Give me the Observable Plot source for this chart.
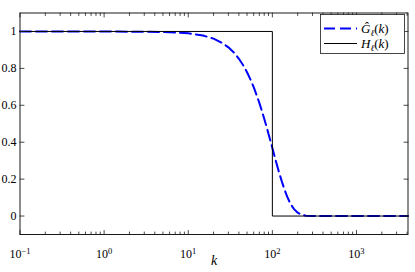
<!DOCTYPE html>
<html>
<head>
<meta charset="utf-8">
<script src="https://cdn.jsdelivr.net/npm/d3@7"></script>
<script src="https://cdn.jsdelivr.net/npm/@observablehq/plot@0.6"></script>
<style>
  html, body { margin: 0; padding: 0; background: white; }
  #wrap { position: relative; width: 415px; height: 272px; }
  #legend { position: absolute; left: 0; top: 0; pointer-events: none; }
  #wrap svg, #wrap svg text { font-family: "Liberation Serif", "Times New Roman", Times, serif !important; }
</style>
</head>
<body>
<div id="wrap"></div>
<script>
// ---- data ----
const gK = [0.1, 1, 5, 10, 15, 20, 25, 30, 35, 40, 45, 50, 55, 60, 65, 70, 75, 80, 85, 90, 95, 100,
            110, 120, 130, 140, 150, 160, 170, 180, 200, 220, 250, 300, 400, 1000, 4096];
const gVal = [1, 1.0, 0.9975, 0.990, 0.978, 0.961, 0.939, 0.914, 0.885, 0.852, 0.817, 0.779, 0.739, 0.698,
              0.655, 0.613, 0.570, 0.527, 0.486, 0.445, 0.406, 0.368,
              0.298, 0.237, 0.185, 0.141, 0.105, 0.077, 0.056, 0.039, 0.018, 0.008, 0.002, 0.0001, 0, 0, 0];
const hK = [0.1, 100, 100, 4096];
const hVal = [1, 1, 0, 0];

const xMajor = [0.1, 1, 10, 100, 1000];
const xMajorLabels = ["10^−1", "10^0", "10^1", "10^2", "10^3"];
const xMinor = [0.2,0.3,0.4,0.5,0.6,0.7,0.8,0.9, 2,3,4,5,6,7,8,9, 20,30,40,50,60,70,80,90,
                200,300,400,500,600,700,800,900, 2000,3000,4000];
const yTicks = [0, 0.2, 0.4, 0.6, 0.8, 1];
const yTickLabels = ["0", "0.2", "0.4", "0.6", "0.8", "1"];
const xLabel = "k";

// ---- build tables ----
const gRows = gK.map((k, i) => ({k, v: gVal[i]}));
const hRows = hK.map((k, i) => ({k, v: hVal[i]}));

const tickShape = { draw(ctx, l) { ctx.moveTo(0, 0); ctx.lineTo(0, -l); } };
const axisColor = "#1a1a1a";
const tickOpts = (len) => ({shape: tickShape, length: len, anchor: "start", stroke: axisColor, strokeWidth: 0.8});
const serif = "'Liberation Serif', 'Times New Roman', Times, serif";

const plot = Plot.plot({
  width: 415,
  height: 272,
  marginLeft: 19.5,
  marginRight: 7.5,
  marginTop: 12.5,
  marginBottom: 38,
  x: {type: "log", domain: [0.1, 4096]},
  y: {domain: [-0.1, 1.1]},
  style: {fontFamily: serif, fontSize: "12px", background: "white", color: "black"},
  marks: [
    Plot.line(gRows, {x: "k", y: "v", stroke: "#0000ff", strokeWidth: 2, strokeDasharray: "11,5"}),
    Plot.line(hRows, {x: "k", y: "v", stroke: "black", strokeWidth: 1}),
    // inward ticks
    Plot.vector(xMajor, {x: d => d, frameAnchor: "bottom", rotate: 0, ...tickOpts(4)}),
    Plot.vector(xMinor, {x: d => d, frameAnchor: "bottom", rotate: 0, ...tickOpts(2.5)}),
    Plot.vector(xMajor, {x: d => d, frameAnchor: "top", rotate: 180, ...tickOpts(4)}),
    Plot.vector(xMinor, {x: d => d, frameAnchor: "top", rotate: 180, ...tickOpts(2.5)}),
    Plot.vector(yTicks, {y: d => d, frameAnchor: "left", rotate: 90, ...tickOpts(4)}),
    Plot.vector(yTicks, {y: d => d, frameAnchor: "right", rotate: -90, ...tickOpts(4)}),
    Plot.frame({stroke: axisColor, strokeWidth: 1}),
    Plot.axisY({ticks: yTicks, tickSize: 0, tickPadding: 3.5, tickFormat: d => yTickLabels[yTicks.indexOf(d)], label: null}),
    Plot.axisX({ticks: xMajor, tickSize: 0, tickPadding: 15, tickFormat: d => xMajorLabels[xMajor.indexOf(d)], label: null}),
    Plot.text([xLabel], {frameAnchor: "bottom", text: d => d, dy: 30, fontStyle: "italic", fontSize: 14})
  ]
});

// superscripts for the log tick labels
d3.select(plot).selectAll('g[aria-label="x-axis tick label"] text').each(function() {
  const t = d3.select(this);
  const s = t.text();
  const parts = s.split("^");
  if (parts.length === 2) {
    t.text(parts[0]);
    t.append("tspan").attr("dy", "-0.5em").attr("font-size", "8.5px").text(parts[1]);
  }
});

document.getElementById("wrap").appendChild(plot);

// legend (HTML overlay)
const lg = d3.select("#wrap").append("svg").attr("id", "legend").attr("width", 415).attr("height", 272)
  .attr("font-family", serif).attr("font-size", 12);
lg.append("rect").attr("x", 320.5).attr("y", 14.5).attr("width", 84).attr("height", 39)
  .attr("fill", "white").attr("stroke", axisColor).attr("stroke-width", 0.8);
lg.append("line").attr("x1", 324).attr("x2", 357).attr("y1", 28.5).attr("y2", 28.5)
  .attr("stroke", "#0000ff").attr("stroke-width", 2).attr("stroke-dasharray", "11,5");
lg.append("line").attr("x1", 324).attr("x2", 357).attr("y1", 43.5).attr("y2", 43.5)
  .attr("stroke", "black").attr("stroke-width", 1);
function legendLabel(y, letter) {
  const t = lg.append("text").attr("x", 361).attr("y", y).attr("font-family", serif).attr("font-size", 13);
  t.append("tspan").attr("font-style", "italic").text(letter);
  t.append("tspan").attr("font-style", "italic").attr("font-size", "9px").attr("dy", 3).text("ℓ");
  t.append("tspan").attr("dy", -3).text("(");
  t.append("tspan").attr("font-style", "italic").text("k");
  t.append("tspan").text(")");
}
legendLabel(33, "Ĝ");
legendLabel(48, "H");
</script>
</body>
</html>
